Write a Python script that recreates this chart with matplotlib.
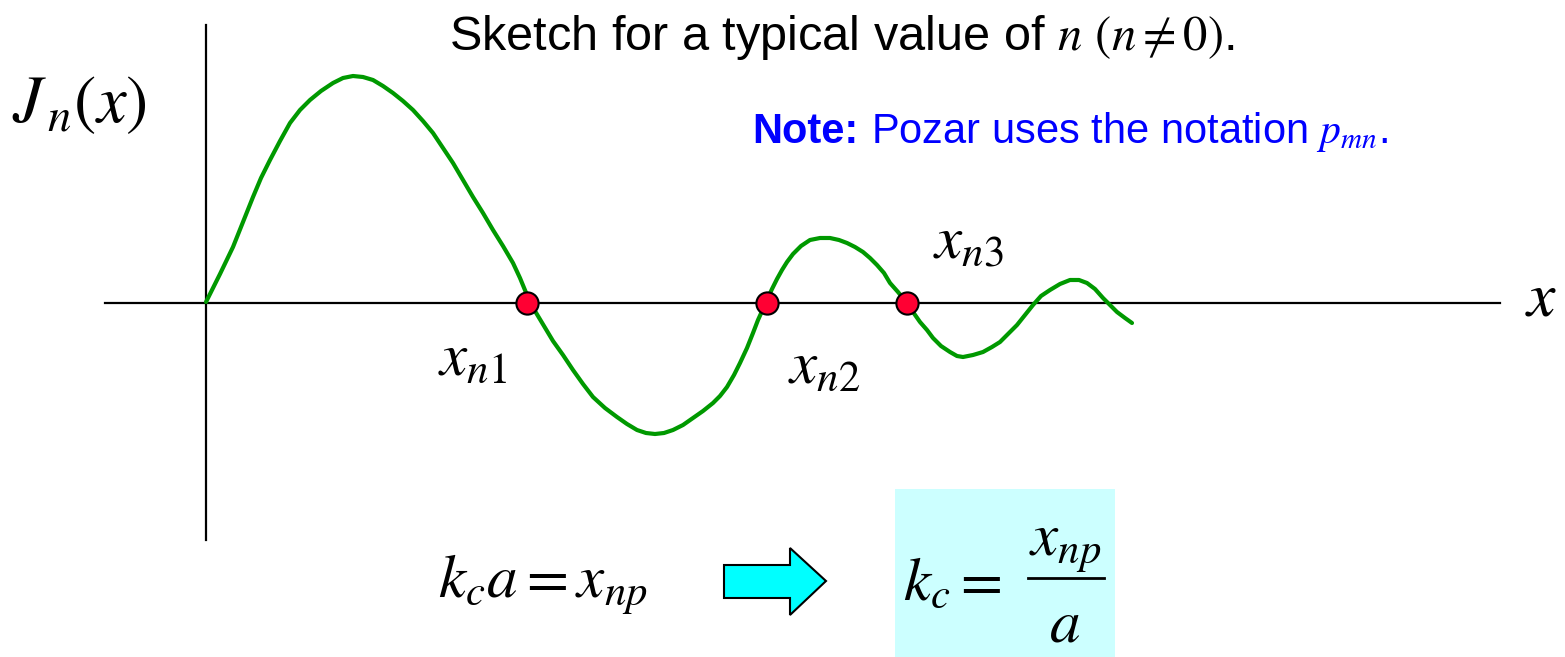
import matplotlib
matplotlib.use("Agg")
import matplotlib.pyplot as plt
from matplotlib.patches import Polygon, Rectangle

plt.rcParams['mathtext.fontset'] = 'stix'
plt.rcParams['font.family'] = ['Liberation Sans', 'DejaVu Sans']

# Curve (pixel coordinates of the original picture)
curve_x = [206, 220, 233, 243, 253, 261, 270, 280, 290, 300, 310, 321, 333,
           343, 353, 363, 373, 383, 393, 403, 413, 423, 433, 443, 453, 463,
           473, 483, 493, 503, 513, 520, 527, 535, 544, 553, 563, 573, 583,
           593, 605, 617, 627, 637, 646, 655, 664, 673, 683, 693, 703, 713,
           720, 727, 734, 740, 747, 753, 758, 763, 767, 772, 777, 782, 787,
           793, 801, 810, 820, 830, 839, 847, 855, 863, 870, 877, 884, 890,
           898, 907, 913, 920, 927, 933, 941, 950, 957, 963, 973, 983, 992,
           1000, 1008, 1017, 1025, 1033, 1041, 1050, 1060, 1070, 1079, 1087,
           1095, 1103, 1110, 1117, 1125, 1132]
curve_y = [302, 274, 247, 222, 197, 178, 160, 141, 123, 110, 100, 91, 83,
           78, 76, 77, 80, 86, 93, 101, 110, 121, 133, 148, 163, 180,
           197, 213, 230, 246, 263, 278, 295, 311, 326, 341, 355, 370, 384,
           397, 408, 417, 424, 430, 433, 434, 433, 430, 425, 418, 411, 403,
           396, 387, 375, 363, 348, 333, 320, 309, 300, 289, 279, 270, 262,
           254, 246, 240, 238, 238, 240, 243, 247, 252, 258, 265, 273, 283,
           292, 303, 312, 322, 330, 338, 346, 352, 356, 357, 355, 352, 347,
           342, 334, 325, 315, 305, 296, 290, 284, 280, 280, 283, 289, 298,
           305, 312, 318, 323]
zeros_x = [527, 767, 907]
zeros_y = [303, 303, 303]

fig = plt.figure(figsize=(15.65, 6.57), dpi=100)
ax = fig.add_axes([0, 0, 1, 1])
ax.set_xlim(0, 1565)
ax.set_ylim(657, 0)
ax.axis('off')

# axes lines
ax.plot([105, 1500], [303, 303], color='black', lw=1.6, zorder=1)
ax.plot([206, 206], [25, 540], color='black', lw=1.6, zorder=1)

ax.plot(curve_x, curve_y, color='#009900', lw=3.0, solid_joinstyle='round',
        solid_capstyle='round', zorder=2)
ax.plot(zeros_x, zeros_y, 'o', ms=16, mfc='#FF0033', mec='black', mew=1.5,
        zorder=3)

# texts
ax.text(842, 50, r'Sketch for a typical value of $n$ $(n \neq 0)$.',
        fontsize=35, ha='center', va='baseline', color='black')
ax.text(12, 122, r'$J_{\,n}(x)$', fontsize=48, ha='left', va='baseline')
ax.text(752, 143, 'Note:', fontsize=30, color='#0000FF', fontweight='bold',
        ha='left', va='baseline')
ax.text(871, 143, r'Pozar uses the notation $p_{mn}$.', fontsize=30,
        color='#0000FF', ha='left', va='baseline')

ax.text(438, 375, r'$x_{n1}$', fontsize=44, ha='left', va='baseline')
ax.text(788, 383, r'$x_{n2}$', fontsize=44, ha='left', va='baseline')
ax.text(933, 258, r'$x_{n3}$', fontsize=44, ha='left', va='baseline')
ax.text(1525, 315, r'$x$', fontsize=46, ha='left', va='baseline')

ax.text(438, 597, r'$k_c a = x_{np}$', fontsize=44, ha='left', va='baseline')

# arrow
arrow = Polygon([(724, 565), (790, 565), (790, 548), (826, 581), (790, 615),
                 (790, 598), (724, 598)], closed=True, facecolor='#00FFFF',
                edgecolor='black', lw=1.5, zorder=2)
ax.add_patch(arrow)

# box with result
ax.add_patch(Rectangle((895, 489), 220, 170, facecolor='#CCFFFF',
                       edgecolor='none', zorder=0))
ax.text(903, 600, r'$k_c =$', fontsize=44, ha='left', va='baseline')
ax.text(1065, 555, r'$x_{np}$', fontsize=44, ha='center', va='baseline')
ax.plot([1028, 1104], [578, 578], color='black', lw=2, zorder=3)
ax.text(1065, 642, r'$a$', fontsize=44, ha='center', va='baseline')

fig.savefig('out.png', dpi=100)
